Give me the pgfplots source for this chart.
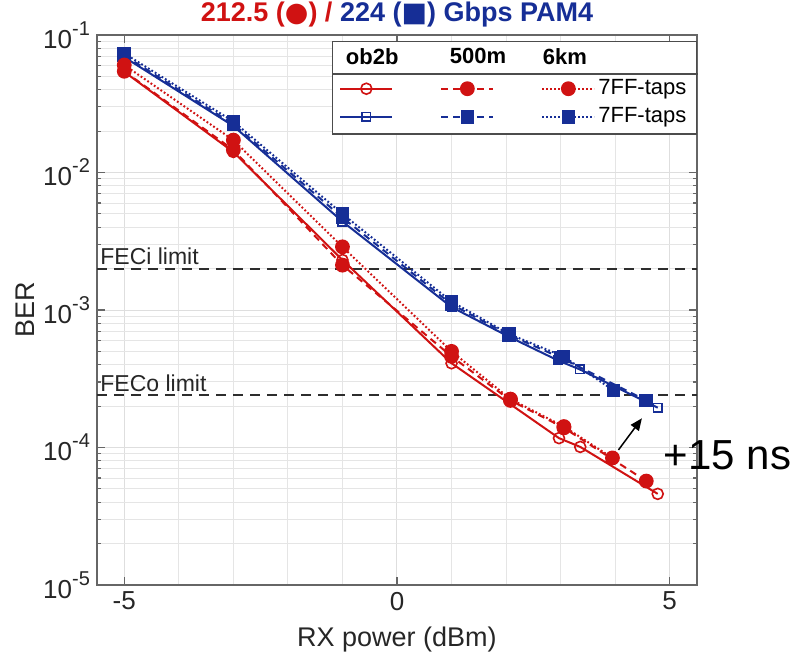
\documentclass[border=0pt]{standalone}
\usepackage{fontspec}
\setmainfont{Liberation Sans}
\newfontfamily\symfont{DejaVu Sans}
\usepackage{pgfplots}
\pgfplotsset{compat=1.18}
\usetikzlibrary{arrows.meta}

\definecolor{berred}{RGB}{208,18,18}
\definecolor{berblue}{RGB}{22,46,150}
\definecolor{limitgray}{RGB}{45,45,45}

\newcommand{\dec}[1]{10\raisebox{0.5em}{\fontsize{10}{12}\selectfont #1}}

\pgfplotsset{
  redob2b/.style={berred, solid, line width=1pt, mark=o, mark size=2.75pt,
    mark options={solid, fill=white, line width=0.8pt}},
  red500/.style={berred, dash pattern=on 3.5pt off 2.5pt, line width=1pt, mark=*, mark size=3.2pt,
    mark options={solid}},
  red6km/.style={berred, dash pattern=on 0.9pt off 1.1pt, line width=1pt, mark=*, mark size=3.2pt,
    mark options={solid}},
  blueob2b/.style={berblue, solid, line width=1pt, mark=square, mark size=2.1pt,
    mark options={solid, fill=white, line width=0.8pt}},
  blue500/.style={berblue, dash pattern=on 3.5pt off 2.5pt, line width=1pt, mark=square*, mark size=2.9pt,
    mark options={solid}},
  blue6km/.style={berblue, dash pattern=on 0.9pt off 1.1pt, line width=1pt, mark=square*, mark size=2.9pt,
    mark options={solid}},
  % column heading placed in a legend image cell
  legendhead/.style 2 args={legend image code/.code={
    \path[draw=none, fill=none] (0pt,-8pt) rectangle (26pt,6pt);
    \node[overlay, anchor=west, inner sep=0pt, text=black,
      font=\fontsize{11}{13}\bfseries\selectfont] at (#1,0pt) {#2};}},
}

\begin{document}
\begin{tikzpicture}
\useasboundingbox (-48.5pt,-39.5pt) rectangle (347.5pt,292.5pt);
\begin{axis}[
  at={(0pt,0pt)}, anchor=south west,
  scale only axis, width=300pt, height=275pt,
  xmin=-5.5, xmax=5.5,
  ymode=log, ymin=1e-5, ymax=1e-1,
  xtick={-5,0,5}, xticklabels={-5,0,5},
  minor xtick={-4,-3,-2,-1,1,2,3,4},
  ytick={1e-5,1e-4,1e-3,1e-2,1e-1},
  yticklabels={\dec{-5},\dec{-4},\dec{-3},\dec{-2},\dec{-1}},
  grid=both,
  major grid style={black!13, line width=0.5pt},
  minor grid style={black!10, line width=0.5pt},
  axis line style={black!60, line width=0.6pt},
  tick align=inside,
  major tick length=4pt, minor tick length=2pt,
  tick style={black!60, line width=0.6pt},
  minor x tick style={draw=none},
  ticklabel style={font=\fontsize{13}{15}\selectfont, text=black!85},
  xlabel={RX power (dBm)}, ylabel={BER},
  label style={font=\fontsize{13.5}{16}\selectfont, text=black!85},
  xlabel style={at={(axis description cs:0.5,-0.1)}, anchor=center},
  ylabel style={at={(axis description cs:-0.12,0.5)}, anchor=center},
  clip=false,
  legend columns=3,
  legend image code/.code={\draw[mark repeat=2,mark phase=2,#1] plot coordinates {(0pt,0pt) (13pt,0pt) (26pt,0pt)};},
  legend style={at={(1,0.989)}, anchor=north east, draw=black!70, line width=0.6pt, fill=white,
    font=\fontsize{11}{13}\selectfont, inner xsep=3.5pt, inner ysep=2pt, row sep=1pt,
    nodes={inner xsep=1.5pt},
    /tikz/every even column/.append style={column sep=20.5pt}},
]

% FEC thresholds
\addplot[limitgray, line width=1pt, dash pattern=on 5pt off 3.5pt, forget plot] coordinates {(-5.5,2.0e-3) (5.5,2.0e-3)};
\addplot[limitgray, line width=1pt, dash pattern=on 5pt off 3.5pt, forget plot] coordinates {(-5.5,2.4e-4) (5.5,2.4e-4)};
\node[anchor=south west, inner sep=1.5pt, font=\fontsize{11.5}{13}\selectfont, text=black!85] at (axis cs:-5.5,2.0e-3) {FECi limit};
\node[anchor=south west, inner sep=1.5pt, font=\fontsize{11.5}{13}\selectfont, text=black!85] at (axis cs:-5.5,2.4e-4) {FECo limit};

% 224 Gbps
\addplot[blueob2b, forget plot] coordinates {(-5,6.9e-2) (-3,2.18e-2) (-1,4.4e-3) (1,1.05e-3) (2.05,6.4e-4) (2.95,4.3e-4) (3.35,3.7e-4) (4.78,1.95e-4)};
\addplot[blue500, forget plot] coordinates {(-5,7.1e-2) (-3,2.25e-2) (-1,4.7e-3) (1,1.1e-3) (2.05,6.6e-4) (3.0,4.5e-4) (4.57,2.2e-4)};
\addplot[blue6km, forget plot] coordinates {(-5,7.35e-2) (-3,2.35e-2) (-1,5.0e-3) (1,1.15e-3) (2.05,6.7e-4) (3.05,4.6e-4) (3.97,2.6e-4)};

% 212.5 Gbps
\addplot[redob2b, forget plot] coordinates {(-5,5.4e-2) (-3,1.41e-2) (-1,2.31e-3) (1,4.1e-4) (2.97,1.17e-4) (3.36,1.01e-4) (4.78,4.6e-5)};
\addplot[red500, forget plot] coordinates {(-5,5.45e-2) (-3,1.46e-2) (-1,2.12e-3) (1,4.6e-4) (2.08,2.2e-4) (3.06,1.39e-4) (4.57,5.7e-5)};
\addplot[red6km, forget plot] coordinates {(-5,6.05e-2) (-3,1.72e-2) (-1,2.88e-3) (1,5.0e-4) (2.08,2.25e-4) (3.06,1.42e-4) (3.95,8.4e-5)};

% legend: heading row, then one row per bit rate
\addlegendimage{legendhead={2.5pt}{ob2b}}
\addlegendentry{}
\addlegendimage{legendhead={4pt}{500m}}
\addlegendentry{}
\addlegendimage{legendhead={0pt}{6km}}
\addlegendentry{}
\addlegendimage{redob2b}
\addlegendentry{}
\addlegendimage{red500}
\addlegendentry{}
\addlegendimage{red6km}
\addlegendentry{7FF-taps}
\addlegendimage{blueob2b}
\addlegendentry{}
\addlegendimage{blue500}
\addlegendentry{}
\addlegendimage{blue6km}
\addlegendentry{7FF-taps}

% latency annotation
\draw[-{Triangle[length=6pt,width=5pt]}, line width=0.75pt] (axis cs:4.06,9.6e-5) -- (axis cs:4.49,1.63e-4);
\node[font=\fontsize{21}{24}\selectfont] at (axis cs:6.06,8.8e-5) {+15 ns};

% title
\node[anchor=base, yshift=6.5pt, font=\fontsize{13.5}{16}\bfseries\selectfont] at (rel axis cs:0.5,1)
  {{\color{berred}212.5 ({\symfont ●}) /} {\color{berblue}224 ({\symfont ■}) Gbps PAM4}};
\end{axis}
% rule under the legend heading
\draw[black!70, line width=0.6pt] (118pt,255.5pt) -- (300.5pt,255.5pt);
\end{tikzpicture}
\end{document}
